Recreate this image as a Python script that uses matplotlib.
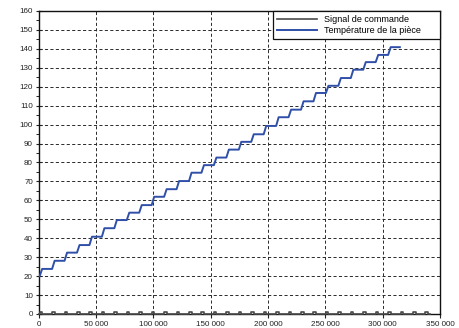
import matplotlib
matplotlib.use("Agg")
import matplotlib.pyplot as plt
from matplotlib.ticker import MultipleLocator, FuncFormatter

plt.rcParams['font.family'] = ['Liberation Sans', 'DejaVu Sans']

# instants des impulsions de commande
pulse_times = [1000, 11850, 22700, 33550, 44400, 55250, 66100, 76950,
               87800, 98650, 109500, 120350, 131200, 142050, 152900, 163750,
               174600, 185450, 196300, 207150, 218000, 228850, 239700, 250550,
               261400, 272250, 283100, 293950, 304800, 315650, 326500, 337350]
pulse_width = 2200
pulse_height = 1.2
t_end = 341000

# paliers de température (°C), un par impulsion
temp_start = 20.0
temp_levels = [23.8, 28.1, 32.4, 36.4, 40.8, 45.3, 49.6, 53.5, 57.5, 61.9,
               65.9, 70.2, 74.6, 78.6, 82.6, 86.8, 90.9, 94.9, 99.3, 103.9,
               107.9, 112.3, 116.7, 120.5, 124.6, 129.0, 133.0, 136.8, 140.9]
rise_time = 2200
temp_end = 315000

xticks = [0, 50000, 100000, 150000, 200000, 250000, 300000, 350000]

# signal de commande : créneaux courts
cmd_t, cmd_v = [0], [0]
for tp in pulse_times:
    cmd_t += [tp, tp, tp + pulse_width, tp + pulse_width]
    cmd_v += [0, pulse_height, pulse_height, 0]
cmd_t.append(t_end)
cmd_v.append(0)

# température : rampe courte à chaque impulsion
temp_t, temp_v = [0], [temp_start]
prev = temp_start
for tp, lvl in zip(pulse_times, temp_levels):
    temp_t += [tp, tp + rise_time]
    temp_v += [prev, lvl]
    prev = lvl
temp_t.append(temp_end)
temp_v.append(prev)

fig = plt.figure(figsize=(4.6, 3.28), dpi=100)
ax = fig.add_axes([0.0837, 0.0427, 0.8728, 0.9238])

ax.plot(cmd_t, cmd_v, color="#4a4a4a", lw=1.2, label="Signal de commande",
        clip_on=False, zorder=3)
ax.plot(temp_t, temp_v, color="#2f4fa8", lw=1.4,
        label="Température de la pièce", zorder=3)

ax.set_xlim(0, 350000)
ax.set_ylim(0, 160)
ax.set_xticks(xticks)
ax.xaxis.set_major_formatter(
    FuncFormatter(lambda v, p: f"{int(v):,}".replace(",", " ")))
ax.yaxis.set_major_locator(MultipleLocator(10))
ax.yaxis.set_minor_locator(MultipleLocator(5))

ax.grid(True, which="major", color="#2a2a2a", lw=0.7,
        linestyle=(0, (3.2, 2.4)))
ax.tick_params(axis="both", which="major", labelsize=5.8, length=3,
               width=0.8, colors="#222222", pad=2)
ax.tick_params(axis="y", which="major", direction="inout", length=4)
ax.tick_params(axis="y", which="minor", direction="out", length=2, width=0.6)
for s in ax.spines.values():
    s.set_color("#111111")
    s.set_linewidth(1.0)

# légende étirée sur la partie droite, en haut
leg = ax.legend(loc="upper right", bbox_to_anchor=(0.584, 0.0, 0.416, 1.0),
                mode="expand", borderaxespad=0.0, fontsize=6.5,
                fancybox=False, framealpha=1.0, edgecolor="#111111",
                handlelength=4.4, handletextpad=0.8, borderpad=0.45,
                labelspacing=0.2)
leg.get_frame().set_linewidth(0.9)

fig.savefig("out.png", dpi=100)
